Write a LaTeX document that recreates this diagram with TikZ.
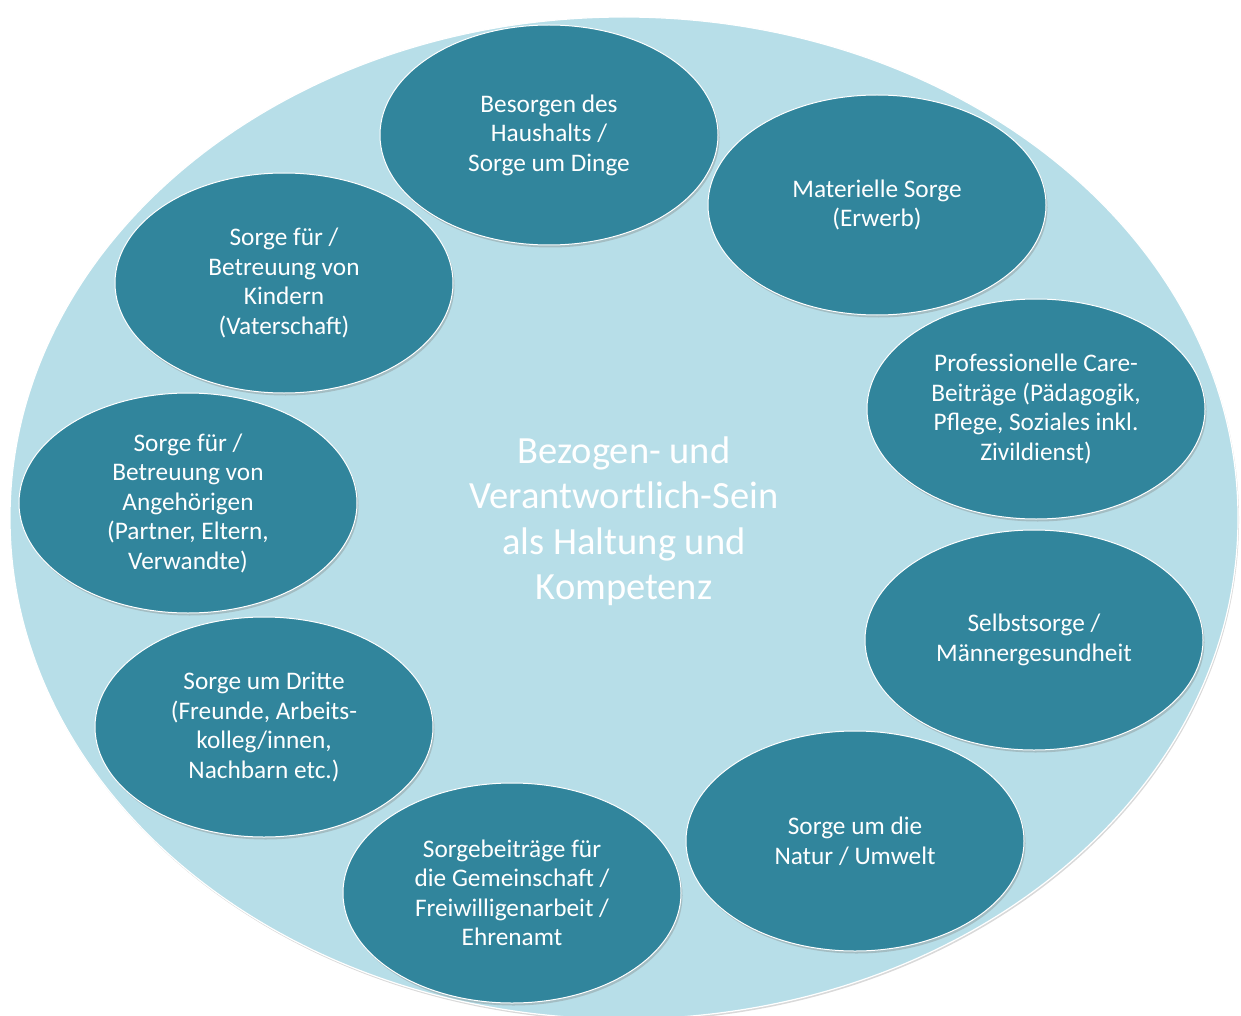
\documentclass[tikz,border=0pt]{standalone}
\usepackage{fontspec}
\setmainfont{Carlito}
\usetikzlibrary{shapes.geometric, shadows}
\definecolor{outerfill}{HTML}{b7dee8}
\definecolor{carefill}{HTML}{31859c}

\begin{document}
\begin{tikzpicture}[
  x=1pt, y=-1pt,
  whole/.style={ellipse, draw=white, line width=1.2pt, fill=outerfill,
                minimum width=1228pt, minimum height=1002pt, inner sep=0pt,
                drop shadow={shadow xshift=1pt, shadow yshift=-2pt, opacity=0.3}},
  care/.style={ellipse, draw=white, line width=1pt, fill=carefill,
               minimum width=338pt, minimum height=220pt, inner sep=0pt,
               align=center, text=white,
               font=\fontsize{25.3}{29.5}\selectfont,
               drop shadow={shadow xshift=1.5pt, shadow yshift=-2.5pt, opacity=0.35}},
  core/.style={align=center, text=white,
               font=\fontsize{38.5}{45.5}\selectfont}
]
\useasboundingbox (0,0) rectangle (1241,1016);

% Outer frame
\node[whole] (frame) at (624,518) {};

% Fields of care, clockwise from the top
\node[care] (haushalt)  at (549,135) {Besorgen des\\Haushalts /\\Sorge um Dinge};
\node[care] (erwerb)    at (877,205) {Materielle Sorge\\(Erwerb)};
\node[care] (beruf)     at (1036,409) {Professionelle Care-\\Beiträge (Pädagogik,\\Pflege, Soziales inkl.\\Zivildienst)};
\node[care] (selbst)    at (1034,640) {Selbstsorge /\\Männergesundheit};
\node[care] (umwelt)    at (855,841) {Sorge um die\\Natur / Umwelt};
\node[care] (ehrenamt)  at (512,893) {Sorgebeiträge für\\die Gemeinschaft /\\Freiwilligenarbeit /\\Ehrenamt};
\node[care] (dritte)    at (264,727) {Sorge um Dritte\\(Freunde, Arbeits-\\kolleg/innen,\\Nachbarn etc.)};
\node[care] (angehoer)  at (188,503) {Sorge für /\\Betreuung von\\Angehörigen\\(Partner, Eltern,\\Verwandte)};
\node[care] (kinder)    at (284,283) {Sorge für /\\Betreuung von\\Kindern\\(Vaterschaft)};

% Centre
\node[core] (haltung) at (624,521) {Bezogen- und\\Verantwortlich-Sein\\als Haltung und\\Kompetenz};

\end{tikzpicture}
\end{document}
